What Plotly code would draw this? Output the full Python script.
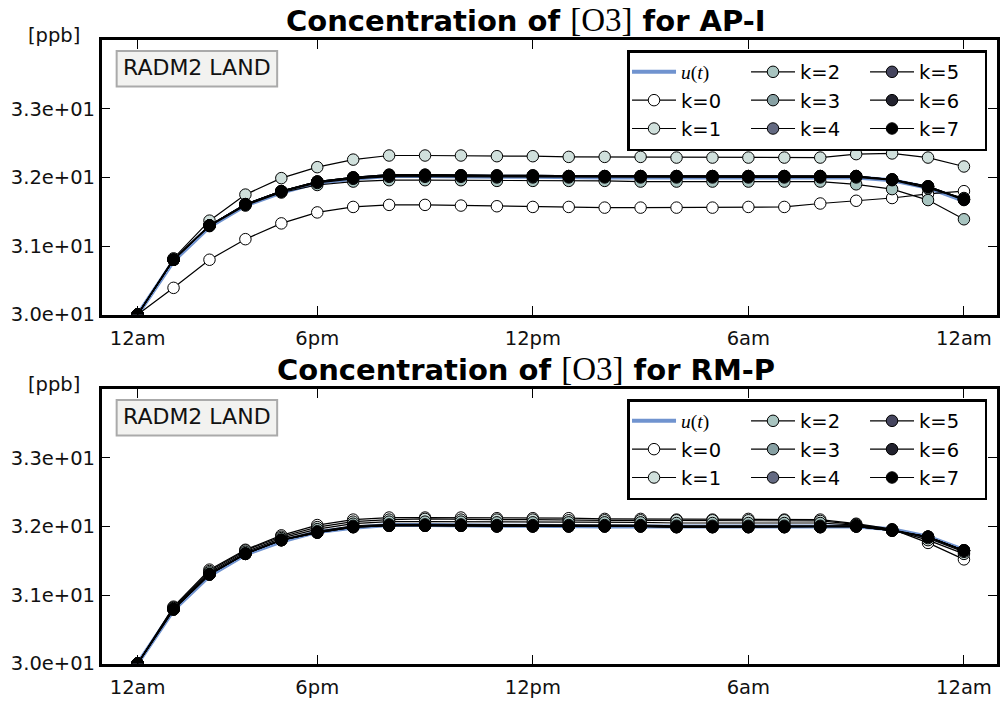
import plotly.graph_objects as go

# ---------------- data ----------------
hours = list(range(24))
tick_positions = [0, 5, 11, 17, 23]
tick_labels = ["12am", "6pm", "12pm", "6am", "12am"]
y_ticks = [30, 31, 32, 33]
y_tick_labels = ["3.0e+01", "3.1e+01", "3.2e+01", "3.3e+01"]

u_t = [30.00, 30.78, 31.28, 31.59, 31.78, 31.92, 31.98, 32.02, 32.02, 32.01, 32.01, 32.01,
       32.00, 32.00, 32.00, 32.00, 32.00, 32.00, 32.00, 32.00, 32.00, 31.96, 31.85, 31.66]

# AP-I iterations
api_k0 = [30.00, 30.39, 30.80, 31.10, 31.33, 31.49, 31.57, 31.60, 31.60, 31.59, 31.58, 31.57,
          31.57, 31.56, 31.56, 31.56, 31.56, 31.57, 31.57, 31.62, 31.66, 31.70, 31.76, 31.80]
api_k1 = [30.00, 30.82, 31.37, 31.75, 31.99, 32.15, 32.26, 32.32, 32.32, 32.32, 32.31, 32.31,
          32.30, 32.30, 32.30, 32.29, 32.29, 32.29, 32.29, 32.29, 32.34, 32.35, 32.29, 32.16]
api_k2 = [30.00, 30.80, 31.29, 31.59, 31.78, 31.89, 31.94, 31.96, 31.96, 31.96, 31.95, 31.95,
          31.95, 31.95, 31.94, 31.94, 31.94, 31.94, 31.94, 31.94, 31.90, 31.83, 31.67, 31.39]
api_k3 = [30.00, 30.80, 31.30, 31.60, 31.79, 31.92, 31.98, 32.01, 32.01, 32.01, 32.00, 32.00,
          32.00, 32.00, 32.00, 32.00, 32.00, 32.00, 32.00, 32.00, 32.00, 31.96, 31.84, 31.70]
api_k4 = [30.00, 30.80, 31.30, 31.61, 31.80, 31.93, 31.99, 32.02, 32.02, 32.02, 32.01, 32.01,
          32.01, 32.01, 32.01, 32.01, 32.01, 32.01, 32.01, 32.01, 32.01, 31.97, 31.86, 31.67]
api_k5 = [30.00, 30.80, 31.30, 31.61, 31.80, 31.94, 32.00, 32.03, 32.03, 32.03, 32.02, 32.02,
          32.02, 32.02, 32.02, 32.02, 32.02, 32.02, 32.02, 32.02, 32.02, 31.97, 31.87, 31.68]
api_k6 = [30.00, 30.80, 31.30, 31.61, 31.80, 31.94, 32.00, 32.04, 32.04, 32.03, 32.03, 32.03,
          32.02, 32.02, 32.02, 32.02, 32.02, 32.02, 32.02, 32.02, 32.02, 31.97, 31.87, 31.68]
api_k7 = [30.00, 30.80, 31.30, 31.61, 31.80, 31.94, 32.00, 32.04, 32.04, 32.03, 32.03, 32.03,
          32.02, 32.02, 32.02, 32.02, 32.02, 32.02, 32.02, 32.02, 32.02, 31.97, 31.87, 31.68]

# RM-P iterations
rmp_k0 = [30.00, 30.83, 31.37, 31.66, 31.87, 32.02, 32.10, 32.13, 32.13, 32.13, 32.12, 32.12,
          32.12, 32.11, 32.11, 32.10, 32.10, 32.11, 32.10, 32.10, 32.04, 31.96, 31.76, 31.52]
rmp_k1 = [30.00, 30.82, 31.35, 31.65, 31.85, 31.99, 32.07, 32.10, 32.11, 32.10, 32.10, 32.10,
          32.09, 32.09, 32.09, 32.09, 32.09, 32.09, 32.09, 32.08, 32.03, 31.95, 31.80, 31.60]
rmp_k2 = [30.00, 30.81, 31.33, 31.63, 31.83, 31.96, 32.04, 32.07, 32.07, 32.07, 32.06, 32.06,
          32.06, 32.06, 32.06, 32.05, 32.05, 32.05, 32.05, 32.05, 32.02, 31.95, 31.83, 31.63]
rmp_k3 = [30.00, 30.80, 31.31, 31.61, 31.81, 31.93, 32.01, 32.03, 32.03, 32.03, 32.02, 32.02,
          32.02, 32.02, 32.02, 32.01, 32.01, 32.01, 32.01, 32.01, 32.01, 31.95, 31.85, 31.65]
rmp_k4 = [30.00, 30.79, 31.30, 31.60, 31.80, 31.92, 32.00, 32.02, 32.02, 32.02, 32.01, 32.01,
          32.01, 32.01, 32.01, 32.00, 32.00, 32.00, 32.00, 32.00, 32.00, 31.94, 31.85, 31.65]
rmp_k5 = [30.00, 30.79, 31.30, 31.60, 31.80, 31.91, 31.99, 32.01, 32.01, 32.01, 32.00, 32.00,
          32.00, 32.00, 32.00, 31.99, 31.99, 31.99, 31.99, 31.99, 32.00, 31.94, 31.85, 31.65]
rmp_k6 = [30.00, 30.79, 31.30, 31.60, 31.80, 31.91, 31.99, 32.01, 32.01, 32.01, 32.00, 32.00,
          32.00, 32.00, 32.00, 31.99, 31.99, 31.99, 31.99, 31.99, 32.00, 31.94, 31.85, 31.65]
rmp_k7 = [30.00, 30.79, 31.30, 31.60, 31.80, 31.91, 31.99, 32.01, 32.01, 32.01, 32.00, 32.00,
          32.00, 32.00, 32.00, 31.99, 31.99, 31.99, 31.99, 31.99, 32.00, 31.94, 31.85, 31.65]

iter_names = ["k=0", "k=1", "k=2", "k=3", "k=4", "k=5", "k=6", "k=7"]
iter_colors = ["#ffffff", "#d0e0dc", "#a8c4c0", "#87a0a3", "#646a82", "#45455e", "#22222e", "#000000"]
api_series = [api_k0, api_k1, api_k2, api_k3, api_k4, api_k5, api_k6, api_k7]
rmp_series = [rmp_k0, rmp_k1, rmp_k2, rmp_k3, rmp_k4, rmp_k5, rmp_k6, rmp_k7]
panel_titles = ["AP-I", "RM-P"]

# ---------------- figure ----------------
W, H = 1000, 710
FONT = "DejaVu Sans"
TICK_SIZE = 19.5
SERIF = "Liberation Serif"

fig = go.Figure()

x_left, x_right = 102, 1000
panels = [  # (top px, bottom px)
    (41, 320),
    (396, 675),
]

def py(p):
    return 1 - p / H

u_label = f"<span style='font-family:{SERIF}'><i>u</i>(<i>t</i>)</span>"
group_of = ["g1", "g1", "g2", "g2", "g2", "g3", "g3", "g3"]

for pi, series in enumerate([api_series, rmp_series]):
    xa = "x" if pi == 0 else "x2"
    ya = "y" if pi == 0 else "y2"
    lg = "legend" if pi == 0 else "legend2"
    pre = "a" if pi == 0 else "b"
    fig.add_trace(go.Scatter(
        x=hours, y=u_t, mode="lines", name=u_label,
        line=dict(color="#7093cf", width=4),
        xaxis=xa, yaxis=ya, legend=lg, legendgroup=pre + "g1",
        hoverinfo="skip"))
    for k, (vals, col) in enumerate(zip(series, iter_colors)):
        fig.add_trace(go.Scatter(
            x=hours, y=vals, mode="lines+markers", name=iter_names[k],
            line=dict(color="#000000", width=1.2),
            marker=dict(size=11.5, color=col, line=dict(color="#000000", width=1)),
            xaxis=xa, yaxis=ya, legend=lg, legendgroup=pre + group_of[k]))

axis_common = dict(
    showline=True, linecolor="black", linewidth=2.5, mirror="ticks",
    ticks="inside", ticklen=9, tickwidth=1.3, tickcolor="black",
    showgrid=False, zeroline=False,
    tickfont=dict(family=FONT, size=TICK_SIZE, color="#111111"),
)

layout = dict(
    width=W, height=H,
    margin=dict(l=0, r=0, t=0, b=0),
    paper_bgcolor="white", plot_bgcolor="white",
    font=dict(family=FONT, size=TICK_SIZE, color="black"),
    showlegend=True,
)

for pi, (top, bot) in enumerate(panels):
    sfx = "" if pi == 0 else "2"
    layout["xaxis" + sfx] = dict(
        axis_common, domain=[x_left / W, x_right / W], range=[-1, 23.92],
        tickmode="array", tickvals=tick_positions, ticktext=tick_labels,
        ticklabelstandoff=4, anchor="y" + sfx)
    layout["yaxis" + sfx] = dict(
        axis_common, domain=[py(bot), py(top)], range=[30, 34],
        tickmode="array", tickvals=y_ticks, ticktext=y_tick_labels,
        anchor="x" + sfx)
    layout["legend" + sfx] = dict(
        orientation="h", traceorder="grouped",
        x=990 / W, xanchor="right", y=py(top + 10), yanchor="top",
        bgcolor="white", bordercolor="black", borderwidth=2.5,
        itemwidth=44, entrywidth=60,
        font=dict(family=FONT, size=TICK_SIZE, color="black"),
        itemclick=False, itemdoubleclick=False)

fig.update_layout(**layout)

annotations = []
shapes = []
for pi, (top, bot) in enumerate(panels):
    title = (f"<b>Concentration of </b><span style='font-family:{SERIF};font-weight:normal;font-size:33px'>[O3]</span>"
             f"<b> for {panel_titles[pi]}</b>")
    annotations.append(dict(
        text=title, xref="paper", yref="paper", x=528 / W, y=py(top - 21),
        xanchor="center", yanchor="middle", showarrow=False,
        font=dict(family=FONT, size=29, color="black")))
    annotations.append(dict(
        text="[ppb]", xref="paper", yref="paper", x=82 / W, y=py(top - 5),
        xanchor="right", yanchor="middle", showarrow=False,
        font=dict(family=FONT, size=TICK_SIZE, color="#111111")))
    annotations.append(dict(
        text="RADM2 LAND", xref="paper", yref="paper", x=197.5 / W, y=py(top + 28),
        xanchor="center", yanchor="middle", showarrow=False,
        font=dict(family=FONT, size=22, color="#111111")))
    shapes.append(dict(
        type="rect", xref="paper", yref="paper",
        x0=117 / W, x1=278 / W, y0=py(top + 47), y1=py(top + 11),
        fillcolor="#f2f2f0", line=dict(color="#aaaaaa", width=2), layer="below"))

fig.update_layout(annotations=annotations, shapes=shapes)

fig.write_html("out.html")
